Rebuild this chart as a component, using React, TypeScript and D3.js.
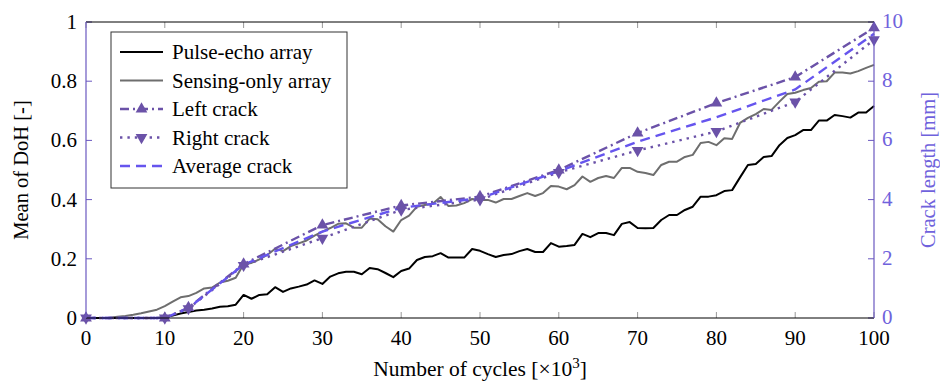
import { useEffect, useRef } from 'react'
import * as d3 from 'd3'

// x = thousands of cycles, one sample per 1k
const pulseEcho = [
  0, 0, 0, 0, 0, 0, 0, 0, 0, 0,
  0.003, 0.008, 0.015, 0.02, 0.025, 0.028, 0.032, 0.038, 0.04, 0.045,
  0.078, 0.065, 0.078, 0.08, 0.104, 0.088, 0.1, 0.106, 0.113, 0.127,
  0.115, 0.14, 0.151, 0.156, 0.156, 0.148, 0.169, 0.165, 0.152, 0.138,
  0.159, 0.167, 0.196, 0.206, 0.209, 0.219, 0.204, 0.204, 0.204, 0.233,
  0.227, 0.216, 0.206, 0.213, 0.216, 0.226, 0.233, 0.223, 0.223, 0.253,
  0.241, 0.243, 0.247, 0.284, 0.273, 0.287, 0.287, 0.28, 0.318, 0.324,
  0.304, 0.303, 0.304, 0.331, 0.348, 0.348, 0.365, 0.376, 0.41, 0.41,
  0.415, 0.429, 0.432, 0.475, 0.517, 0.52, 0.544, 0.547, 0.584, 0.608,
  0.618, 0.635, 0.635, 0.667, 0.667, 0.686, 0.682, 0.677, 0.694, 0.694,
  0.716,
]

const sensingOnly = [
  0, 0, 0, 0.001, 0.004, 0.007, 0.011, 0.016, 0.022, 0.028,
  0.04, 0.055, 0.07, 0.074, 0.085, 0.1, 0.103, 0.12, 0.126, 0.136,
  0.182, 0.186, 0.198, 0.213, 0.234, 0.226, 0.243, 0.252, 0.262, 0.278,
  0.292, 0.304, 0.318, 0.32, 0.305, 0.305, 0.336, 0.334, 0.31, 0.292,
  0.331, 0.346, 0.376, 0.382, 0.386, 0.409, 0.378, 0.38, 0.388, 0.402,
  0.399, 0.399, 0.39, 0.402, 0.402, 0.412, 0.422, 0.412, 0.422, 0.446,
  0.444, 0.435, 0.449, 0.478, 0.46, 0.473, 0.48, 0.473, 0.507, 0.507,
  0.494, 0.49, 0.483, 0.517, 0.528, 0.528, 0.544, 0.551, 0.591, 0.595,
  0.584, 0.607, 0.605, 0.659, 0.676, 0.689, 0.706, 0.703, 0.731, 0.757,
  0.761, 0.77, 0.777, 0.798, 0.8, 0.829, 0.829, 0.826, 0.834, 0.845,
  0.855,
]

// crack measurements (mm)
const crackCycles = [0, 10, 13, 20, 30, 40, 50, 60, 70, 80, 90, 100]
const leftCrack = [0, 0, 0.35, 1.82, 3.14, 3.8, 4.1, 5.0, 6.25, 7.26, 8.14, 9.8]
const rightCrack = [0, 0, 0.32, 1.78, 2.7, 3.65, 4.0, 4.92, 5.66, 6.3, 7.3, 9.4]
const avgCrack = leftCrack.map((v, i) => (v + rightCrack[i]) / 2)

const xTicks = [0, 10, 20, 30, 40, 50, 60, 70, 80, 90, 100]
const yTicks = [0, 0.2, 0.4, 0.6, 0.8, 1]
const y2Ticks = [0, 2, 4, 6, 8, 10]

const legendItems = [
  { label: 'Pulse-echo array', kind: 'pulse' },
  { label: 'Sensing-only array', kind: 'sensing' },
  { label: 'Left crack', kind: 'left' },
  { label: 'Right crack', kind: 'right' },
  { label: 'Average crack', kind: 'avg' },
]

const PURPLE = '#6b52a8'
const VIOLET = '#6655ee'
const AXIS2 = '#6a58c0'
const AXIS2_TEXT = '#6f62dc'
const FONT = "'Liberation Serif', 'Times New Roman'"

export default function App() {
  const svgRef = useRef<SVGSVGElement>(null)

  useEffect(() => {
    if (!svgRef.current) return
    const svg = d3.select(svgRef.current)
    svg.selectAll('*').remove()

    const width = 940
    const height = 383
    const left = 86
    const right = 874
    const top = 22
    const bottom = 318

    svg.attr('width', width).attr('height', height)

    const x = d3.scaleLinear().domain([0, 100]).range([left, right])
    const y = d3.scaleLinear().domain([0, 1]).range([bottom, top])
    const y2 = d3.scaleLinear().domain([0, 10]).range([bottom, top])

    // ticks (inside)
    const tickLen = 6
    svg.append('g')
      .selectAll('line')
      .data(xTicks)
      .join('line')
      .attr('x1', d => x(d)).attr('x2', d => x(d))
      .attr('y1', bottom).attr('y2', bottom - tickLen)
      .attr('stroke', '#999').attr('stroke-width', 1)
    svg.append('g')
      .selectAll('line')
      .data(xTicks)
      .join('line')
      .attr('x1', d => x(d)).attr('x2', d => x(d))
      .attr('y1', top).attr('y2', top + tickLen)
      .attr('stroke', '#999').attr('stroke-width', 1)
    svg.append('g')
      .selectAll('line')
      .data(yTicks)
      .join('line')
      .attr('x1', left).attr('x2', left + tickLen)
      .attr('y1', d => y(d)).attr('y2', d => y(d))
      .attr('stroke', AXIS2).attr('stroke-width', 1)
    svg.append('g')
      .selectAll('line')
      .data(y2Ticks)
      .join('line')
      .attr('x1', right).attr('x2', right - tickLen)
      .attr('y1', d => y2(d)).attr('y2', d => y2(d))
      .attr('stroke', AXIS2).attr('stroke-width', 1)

    const idx = d3.range(101)

    const line = (arr: number[]) =>
      d3.line<number>().x(i => x(i)).y(i => y(arr[i]))(idx)

    svg.append('path')
      .attr('d', line(sensingOnly))
      .attr('fill', 'none').attr('stroke', '#6e6e6e').attr('stroke-width', 2)
      .attr('stroke-linejoin', 'round')
    svg.append('path')
      .attr('d', line(pulseEcho))
      .attr('fill', 'none').attr('stroke', '#000').attr('stroke-width', 2)
      .attr('stroke-linejoin', 'round')

    const crackLine = (arr: number[]) =>
      d3.line<number>().x((_, i) => x(crackCycles[i])).y(d => y2(d))(arr)

    svg.append('path')
      .attr('d', crackLine(leftCrack))
      .attr('fill', 'none').attr('stroke', PURPLE).attr('stroke-width', 2.4)
      .attr('stroke-dasharray', '9 4 2 4')
    svg.append('path')
      .attr('d', crackLine(rightCrack))
      .attr('fill', 'none').attr('stroke', PURPLE).attr('stroke-width', 2.4)
      .attr('stroke-dasharray', '2.4 5')
    svg.append('path')
      .attr('d', crackLine(avgCrack))
      .attr('fill', 'none').attr('stroke', VIOLET).attr('stroke-width', 2.4)
      .attr('stroke-dasharray', '10 6')

    const tri = d3.symbol().type(d3.symbolTriangle).size(60)

    svg.append('g')
      .selectAll('path')
      .data(leftCrack)
      .join('path')
      .attr('d', tri() as string)
      .attr('transform', (d, i) => `translate(${x(crackCycles[i])},${y2(d)})`)
      .attr('fill', PURPLE)
    svg.append('g')
      .selectAll('path')
      .data(rightCrack)
      .join('path')
      .attr('d', tri() as string)
      .attr('transform', (d, i) => `translate(${x(crackCycles[i])},${y2(d)}) rotate(180)`)
      .attr('fill', PURPLE)

    // frame
    svg.append('line').attr('x1', left).attr('x2', right).attr('y1', top).attr('y2', top)
      .attr('stroke', '#000').attr('stroke-width', 1)
    svg.append('line').attr('x1', left).attr('x2', right).attr('y1', bottom).attr('y2', bottom)
      .attr('stroke', '#000').attr('stroke-width', 1)
    svg.append('line').attr('x1', left).attr('x2', left).attr('y1', top).attr('y2', bottom)
      .attr('stroke', AXIS2).attr('stroke-width', 1.2)
    svg.append('line').attr('x1', right).attr('x2', right).attr('y1', top).attr('y2', bottom)
      .attr('stroke', AXIS2).attr('stroke-width', 1.2)

    // tick labels
    svg.append('g')
      .selectAll('text')
      .data(xTicks)
      .join('text')
      .attr('x', d => x(d)).attr('y', bottom + 27)
      .attr('text-anchor', 'middle')
      .attr('font-size', 21)
      .text(d => d)
    svg.append('g')
      .selectAll('text')
      .data(yTicks)
      .join('text')
      .attr('x', left - 9).attr('y', d => y(d) + 7)
      .attr('text-anchor', 'end')
      .attr('font-size', 21)
      .text(d => d3.format('~g')(d))
    svg.append('g')
      .selectAll('text')
      .data(y2Ticks)
      .join('text')
      .attr('x', right + 8).attr('y', d => y2(d) + 6)
      .attr('text-anchor', 'start')
      .attr('font-size', 21)
      .attr('fill', AXIS2_TEXT)
      .text(d => d)

    // axis titles
    const xt = svg.append('text')
      .attr('x', (left + right) / 2).attr('y', 376)
      .attr('text-anchor', 'middle').attr('font-size', 21.5)
    xt.append('tspan').text('Number of cycles [×10')
    xt.append('tspan').attr('dy', -8).attr('font-size', 15).text('3')
    xt.append('tspan').attr('dy', 8).text(']')

    svg.append('text')
      .attr('transform', `translate(28,${(top + bottom) / 2}) rotate(-90)`)
      .attr('text-anchor', 'middle').attr('font-size', 20.5)
      .text('Mean of DoH [-]')
    svg.append('text')
      .attr('transform', `translate(935,${(top + bottom) / 2}) rotate(-90)`)
      .attr('text-anchor', 'middle').attr('font-size', 20.5)
      .attr('fill', AXIS2_TEXT)
      .text('Crack length [mm]')

    // legend
    const lg = svg.append('g')
    lg.append('rect')
      .attr('x', 111).attr('y', 32).attr('width', 236).attr('height', 156)
      .attr('fill', '#fff').attr('stroke', '#333').attr('stroke-width', 1)
    legendItems.forEach((item, i) => {
      const cy = 52 + i * 28.5
      const x1 = 120
      const x2 = 163
      const g = lg.append('g')
      const l = g.append('line').attr('x1', x1).attr('x2', x2).attr('y1', cy).attr('y2', cy)
        .attr('stroke-width', 2)
      if (item.kind === 'pulse') l.attr('stroke', '#000')
      if (item.kind === 'sensing') l.attr('stroke', '#6e6e6e')
      if (item.kind === 'left') {
        l.attr('stroke', PURPLE).attr('stroke-width', 2.4).attr('stroke-dasharray', '9 4 2 4')
        g.append('path').attr('d', tri() as string)
          .attr('transform', `translate(${(x1 + x2) / 2},${cy})`).attr('fill', PURPLE)
      }
      if (item.kind === 'right') {
        l.attr('stroke', PURPLE).attr('stroke-width', 2.4).attr('stroke-dasharray', '2.4 5')
        g.append('path').attr('d', tri() as string)
          .attr('transform', `translate(${(x1 + x2) / 2},${cy}) rotate(180)`).attr('fill', PURPLE)
      }
      if (item.kind === 'avg') {
        l.attr('stroke', VIOLET).attr('stroke-width', 2.4).attr('stroke-dasharray', '10 6')
      }
      g.append('text')
        .attr('x', 172).attr('y', cy + 7)
        .attr('font-size', 21)
        .text(item.label)
    })

    svg.selectAll('text').style('font-family', FONT)
  }, [])

  return (
    <div style={{ position: 'absolute', left: 0, top: 0 }}>
      <svg ref={svgRef}></svg>
    </div>
  )
}
